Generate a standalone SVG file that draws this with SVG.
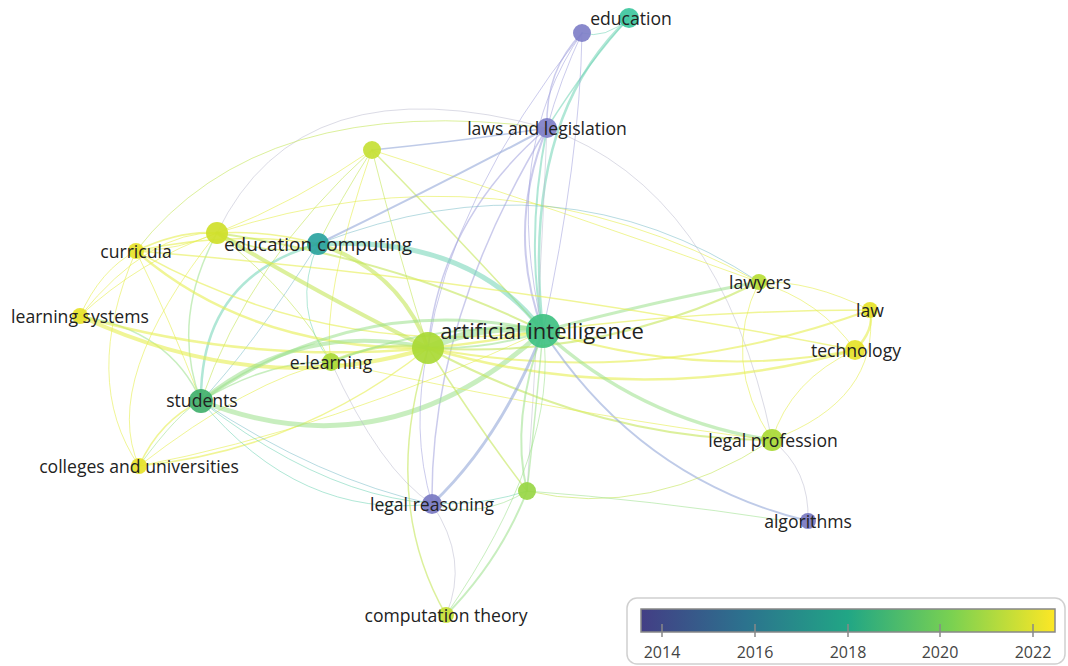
<svg xmlns="http://www.w3.org/2000/svg" width="1068" height="666" viewBox="0 0 1068 666">
<defs>
<linearGradient id="vir" x1="0" y1="0" x2="1" y2="0">
<stop offset="0" stop-color="#433e85"/>
<stop offset="0.25" stop-color="#2c728e"/>
<stop offset="0.5" stop-color="#21a685"/>
<stop offset="0.75" stop-color="#7ad151"/>
<stop offset="1" stop-color="#fde725"/>
</linearGradient>
<style>
.e{fill:none;stroke-linecap:round;}
.y{stroke:#e6ee50;stroke-opacity:0.6;}
.yg{stroke:#c4e65a;stroke-opacity:0.6;}
.g{stroke:#9ae08a;stroke-opacity:0.55;}
.t{stroke:#70d4b4;stroke-opacity:0.55;}
.tb{stroke:#6fb8c4;stroke-opacity:0.5;}
.p{stroke:#a0a0dc;stroke-opacity:0.55;}
.pb{stroke:#94a8d8;stroke-opacity:0.6;}
.gr{stroke:#b8b8cc;stroke-opacity:0.5;}
.n{stroke:none;opacity:0.92;}
.lb{font-family:"Open Sans","Noto Sans",sans-serif;font-size:17.6px;fill:#222;text-anchor:middle;dominant-baseline:central;}
.lg{font-family:"Open Sans","Noto Sans",sans-serif;font-size:16px;fill:#444;text-anchor:middle;}
</style>
</defs>
<rect width="1068" height="666" fill="#ffffff"/>
<g id="connectors">
<path class="e gr" stroke-width="1" d="M217,233 Q300,60 547,128"/>
<path class="e yg" stroke-width="1" d="M136,251 Q260,90 547,128"/>
<path class="e y" stroke-width="1" d="M217,233 Q500,140 759,282"/>
<path class="e tb" stroke-width="1" d="M318,244 Q560,150 759,282"/>
<path class="e gr" stroke-width="1" d="M547,128 Q720,190 772,440"/>
<path class="e y" stroke-width="1" d="M372,150 Q560,210 759,282"/>
<path class="e y" stroke-width="1" d="M372,150 Q300,200 217,233"/>
<path class="e yg" stroke-width="1" d="M372,150 Q400,260 428,348"/>
<path class="e yg" stroke-width="1" d="M372,150 Q340,200 318,244"/>
<path class="e yg" stroke-width="1.5" d="M372,150 Q470,250 543,331"/>
<path class="e pb" stroke-width="1.5" d="M547,128 Q470,140 372,150"/>
<path class="e yg" stroke-width="1" d="M372,150 Q250,260 201,401"/>
<path class="e y" stroke-width="1" d="M372,150 Q320,300 331,362"/>
<path class="e p" stroke-width="1.5" d="M582,33 Q545,70 547,128"/>
<path class="e p" stroke-width="1" d="M582,33 Q560,80 547,128"/>
<path class="e t" stroke-width="1.5" d="M629,18 Q590,60 547,128"/>
<path class="e t" stroke-width="1" d="M629,18 Q605,40 582,33"/>
<path class="e t" stroke-width="2.5" d="M629,18 Q520,120 543,331"/>
<path class="e p" stroke-width="1" d="M582,33 Q500,150 543,331"/>
<path class="e p" stroke-width="1" d="M582,33 Q450,200 428,348"/>
<path class="e p" stroke-width="1" d="M582,33 Q580,160 543,331"/>
<path class="e p" stroke-width="2" d="M547,128 Q505,230 543,331"/>
<path class="e t" stroke-width="2" d="M547,128 Q525,240 543,331"/>
<path class="e pb" stroke-width="2" d="M547,128 Q430,190 318,244"/>
<path class="e p" stroke-width="1.5" d="M547,128 Q440,220 428,348"/>
<path class="e p" stroke-width="1.5" d="M547,128 Q430,320 432,504"/>
<path class="e gr" stroke-width="1" d="M547,128 Q540,300 527,491"/>
<path class="e y" stroke-width="1.5" d="M136,251 Q180,230 217,233"/>
<path class="e y" stroke-width="1" d="M136,251 Q180,250 217,233"/>
<path class="e y" stroke-width="1.5" d="M136,251 Q230,230 318,244"/>
<path class="e y" stroke-width="1" d="M80,316 Q100,270 136,251"/>
<path class="e y" stroke-width="1" d="M80,316 Q140,260 217,233"/>
<path class="e y" stroke-width="1" d="M80,316 Q150,230 217,233"/>
<path class="e g" stroke-width="1.5" d="M80,316 Q170,330 201,401"/>
<path class="e y" stroke-width="1" d="M136,251 Q170,320 201,401"/>
<path class="e g" stroke-width="1.5" d="M217,233 Q170,320 201,401"/>
<path class="e y" stroke-width="1" d="M136,251 Q80,380 139,466"/>
<path class="e y" stroke-width="1" d="M217,233 Q100,380 139,466"/>
<path class="e y" stroke-width="1.5" d="M139,466 Q160,420 201,401"/>
<path class="e g" stroke-width="1" d="M139,466 Q180,410 201,401"/>
<path class="e y" stroke-width="1.5" d="M139,466 Q300,450 428,348"/>
<path class="e y" stroke-width="1" d="M139,466 Q330,430 543,331"/>
<path class="e y" stroke-width="1" d="M139,466 Q250,380 331,362"/>
<path class="e t" stroke-width="2.5" d="M201,401 Q200,277 318,244"/>
<path class="e y" stroke-width="1.5" d="M217,233 Q270,230 318,244"/>
<path class="e yg" stroke-width="1.5" d="M217,233 Q270,260 318,244"/>
<path class="e yg" stroke-width="1" d="M217,233 Q300,300 331,362"/>
<path class="e t" stroke-width="1" d="M318,244 Q290,310 331,362"/>
<path class="e tb" stroke-width="1" d="M318,244 Q250,350 201,401"/>
<path class="e g" stroke-width="1.5" d="M201,401 Q270,360 331,362"/>
<path class="e tb" stroke-width="1" d="M201,401 Q320,480 432,504"/>
<path class="e t" stroke-width="1" d="M201,401 Q380,540 527,491"/>
<path class="e t" stroke-width="1" d="M201,401 Q300,520 432,504"/>
<path class="e y" stroke-width="4" d="M80,316 Q260,400 428,348"/>
<path class="e y" stroke-width="2.5" d="M80,316 Q300,380 543,331"/>
<path class="e y" stroke-width="2.5" d="M136,251 Q250,350 428,348"/>
<path class="e y" stroke-width="1.5" d="M136,251 Q330,360 543,331"/>
<path class="e yg" stroke-width="4" d="M217,233 Q330,300 428,348"/>
<path class="e yg" stroke-width="2" d="M217,233 Q400,260 543,331"/>
<path class="e yg" stroke-width="4" d="M318,244 Q400,270 428,348"/>
<path class="e t" stroke-width="5" d="M318,244 Q470,235 543,331"/>
<path class="e g" stroke-width="4" d="M201,401 Q300,320 428,348"/>
<path class="e g" stroke-width="3" d="M201,401 Q360,290 543,331"/>
<path class="e g" stroke-width="5" d="M201,401 Q388,474 543,331"/>
<path class="e yg" stroke-width="2.5" d="M331,362 Q380,340 428,348"/>
<path class="e g" stroke-width="2" d="M331,362 Q440,320 543,331"/>
<path class="e g" stroke-width="7" d="M428,348 Q485,322 543,331"/>
<path class="e g" stroke-width="2" d="M428,348 Q490,350 543,331"/>
<path class="e g" stroke-width="3" d="M759,282 Q660,300 543,331"/>
<path class="e yg" stroke-width="2" d="M759,282 Q600,360 428,348"/>
<path class="e y" stroke-width="1.5" d="M870,310 Q700,310 543,331"/>
<path class="e y" stroke-width="2" d="M870,310 Q650,390 428,348"/>
<path class="e y" stroke-width="2" d="M855,350 Q700,380 543,331"/>
<path class="e y" stroke-width="2.5" d="M855,350 Q640,410 428,348"/>
<path class="e y" stroke-width="1.5" d="M136,251 Q500,280 855,350"/>
<path class="e g" stroke-width="3.5" d="M772,440 Q640,420 543,331"/>
<path class="e yg" stroke-width="2" d="M772,440 Q600,440 428,348"/>
<path class="e y" stroke-width="1" d="M759,282 Q810,280 870,310"/>
<path class="e y" stroke-width="1" d="M759,282 Q820,300 855,350"/>
<path class="e y" stroke-width="2.5" d="M870,310 Q875,330 855,350"/>
<path class="e y" stroke-width="1" d="M759,282 Q720,360 772,440"/>
<path class="e y" stroke-width="1" d="M855,350 Q790,380 772,440"/>
<path class="e y" stroke-width="1" d="M870,310 Q880,400 772,440"/>
<path class="e gr" stroke-width="1" d="M772,440 Q810,470 808,521"/>
<path class="e pb" stroke-width="2" d="M543,331 Q640,480 808,521"/>
<path class="e yg" stroke-width="1" d="M772,440 Q650,520 527,491"/>
<path class="e y" stroke-width="1" d="M331,362 Q600,420 772,440"/>
<path class="e pb" stroke-width="3" d="M543,331 Q500,440 432,504"/>
<path class="e p" stroke-width="1" d="M428,348 Q410,430 432,504"/>
<path class="e gr" stroke-width="1" d="M432,504 Q470,560 446,615"/>
<path class="e yg" stroke-width="1.5" d="M428,348 Q380,500 446,615"/>
<path class="e g" stroke-width="2" d="M527,491 Q500,560 446,615"/>
<path class="e g" stroke-width="2" d="M543,331 Q510,420 527,491"/>
<path class="e g" stroke-width="1.5" d="M543,331 Q535,420 527,491"/>
<path class="e yg" stroke-width="1.5" d="M428,348 Q480,430 527,491"/>
<path class="e g" stroke-width="1" d="M432,504 Q480,520 527,491"/>
<path class="e g" stroke-width="1" d="M527,491 Q650,500 780,520"/>
<path class="e gr" stroke-width="1" d="M331,362 Q380,470 432,504"/>
<path class="e g" stroke-width="1" d="M543,331 Q560,450 446,615"/>
</g>
<g id="node-education"><circle class="n" cx="629" cy="18" r="10" fill="#3dc79e"/><text class="lb" x="631" y="18">education</text></g>
<g id="node-u1"><circle class="n" cx="582" cy="33" r="9" fill="#7f7fc8"/></g>
<g id="node-laws"><circle class="n" cx="547" cy="128" r="10" fill="#7f7fc8"/><text class="lb" x="547" y="128">laws and legislation</text></g>
<g id="node-u2"><circle class="n" cx="372" cy="150" r="9" fill="#c5e035"/></g>
<g id="node-u3"><circle class="n" cx="217" cy="233" r="11" fill="#cfe02a"/></g>
<g id="node-edcomp"><circle class="n" cx="318" cy="244" r="11" fill="#2aa3a0"/><text class="lb" x="318" y="244" style="font-size:19px">education computing</text></g>
<g id="node-curricula"><circle class="n" cx="136" cy="251" r="8" fill="#e6e22a"/><text class="lb" x="136" y="251">curricula</text></g>
<g id="node-learning"><circle class="n" cx="80" cy="316" r="8" fill="#e6e22a"/><text class="lb" x="80" y="316">learning systems</text></g>
<g id="node-big"><circle class="n" cx="428" cy="348" r="16" fill="#a9d935"/></g>
<g id="node-ai"><circle class="n" cx="543" cy="331" r="17" fill="#3fc182"/><text class="lb" x="542" y="330" style="font-size:22px">artificial intelligence</text></g>
<g id="node-elearning"><circle class="n" cx="331" cy="362" r="9" fill="#a9d935"/><text class="lb" x="331" y="362">e-learning</text></g>
<g id="node-students"><circle class="n" cx="201" cy="401" r="12" fill="#41b06c"/><text class="lb" x="202" y="400">students</text></g>
<g id="node-colleges"><circle class="n" cx="139" cy="466" r="8" fill="#e6e22a"/><text class="lb" x="139" y="466">colleges and universities</text></g>
<g id="node-lawyers"><circle class="n" cx="759" cy="282" r="8" fill="#b7dd35"/><text class="lb" x="760" y="282">lawyers</text></g>
<g id="node-law"><circle class="n" cx="870" cy="310" r="8" fill="#e6e22a"/><text class="lb" x="870" y="310">law</text></g>
<g id="node-technology"><circle class="n" cx="855" cy="350" r="10" fill="#e6e22a"/><text class="lb" x="856" y="350">technology</text></g>
<g id="node-legalprof"><circle class="n" cx="772" cy="440" r="11" fill="#a9d935"/><text class="lb" x="773" y="440">legal profession</text></g>
<g id="node-algorithms"><circle class="n" cx="808" cy="521" r="8" fill="#7878c2"/><text class="lb" x="808" y="521">algorithms</text></g>
<g id="node-u4"><circle class="n" cx="527" cy="491" r="9" fill="#98d645"/></g>
<g id="node-legalreason"><circle class="n" cx="432" cy="504" r="10" fill="#7878c2"/><text class="lb" x="432" y="504">legal reasoning</text></g>
<g id="node-comptheory"><circle class="n" cx="446" cy="615" r="8" fill="#c5e035"/><text class="lb" x="446" y="615">computation theory</text></g>
<g id="legend">
<rect x="627" y="598" width="438" height="66" rx="10" fill="#fff" stroke="#d0d0d0" stroke-width="1.5"/>
<rect x="641" y="609" width="414" height="23" fill="url(#vir)" stroke="#888" stroke-width="1.5"/>
<g stroke="#888" stroke-width="1.5">
<line x1="662" y1="624" x2="662" y2="637"/>
<line x1="755" y1="624" x2="755" y2="637"/>
<line x1="848" y1="624" x2="848" y2="637"/>
<line x1="940" y1="624" x2="940" y2="637"/>
<line x1="1033" y1="624" x2="1033" y2="637"/>
</g>
<text class="lg" x="662" y="658">2014</text>
<text class="lg" x="755" y="658">2016</text>
<text class="lg" x="848" y="658">2018</text>
<text class="lg" x="940" y="658">2020</text>
<text class="lg" x="1033" y="658">2022</text>
</g>
</svg>
